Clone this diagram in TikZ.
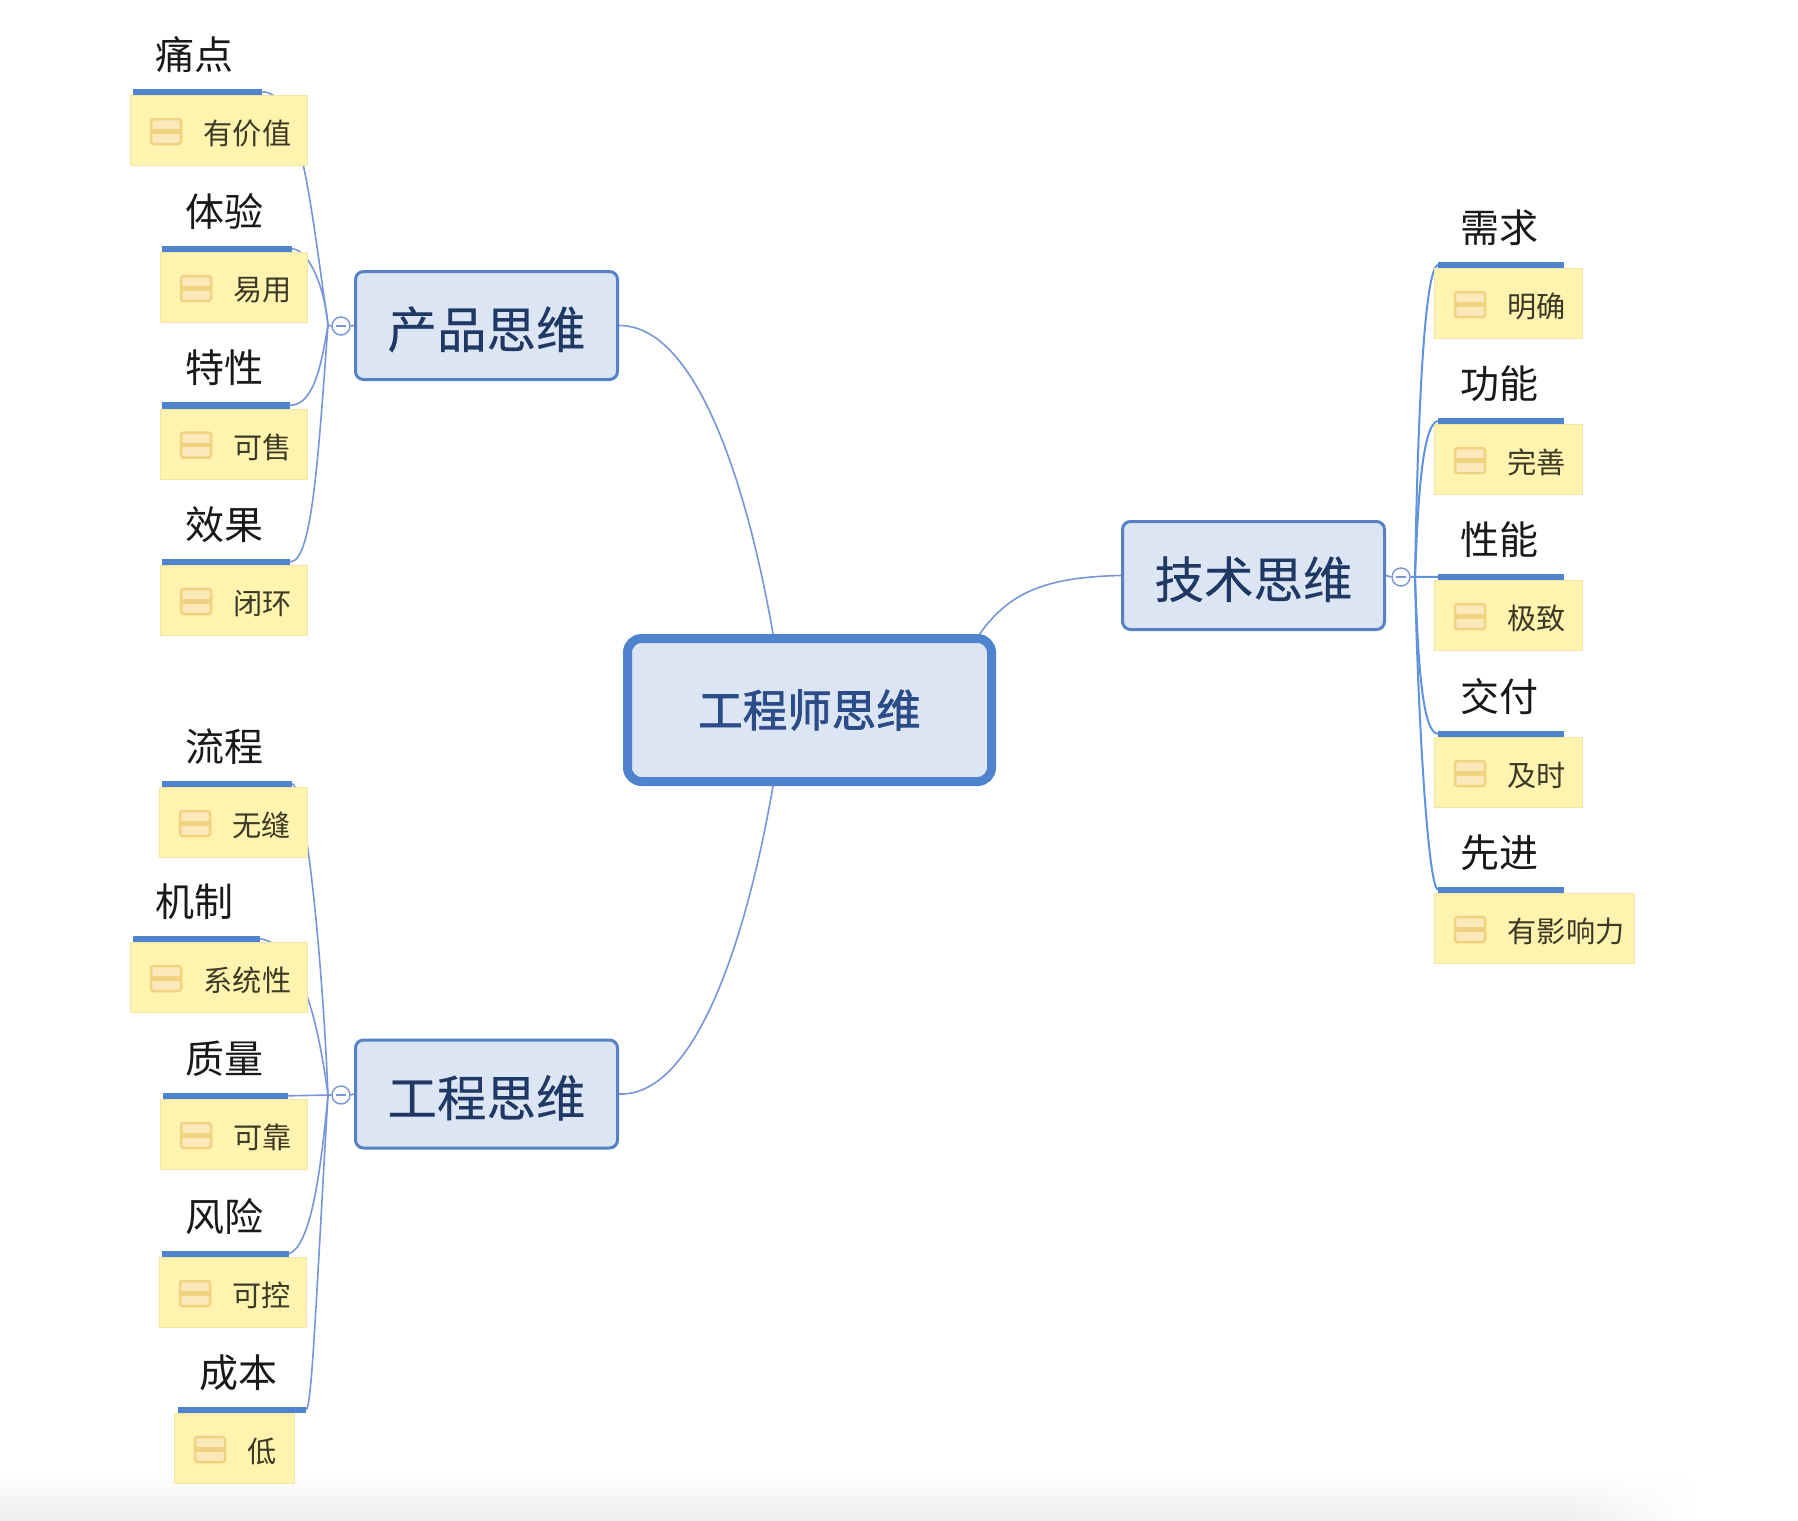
\documentclass[tikz,border=0pt]{standalone}
\usepackage{fontspec}
\setmainfont{Noto Sans CJK SC}
\newfontfamily\rootfont[FakeBold=1.6]{Noto Sans CJK SC}
\newfontfamily\mainfont[FakeBold=0.3]{Noto Sans CJK SC}
\usetikzlibrary{fadings}
\pgfdeclarelayer{behind}
\pgfsetlayers{behind,main}
\definecolor{barblue}{HTML}{4F83CE}
\definecolor{linkblue}{HTML}{7896D6}
\definecolor{linkstrong}{HTML}{5F93DE}
\definecolor{mainfill}{HTML}{DCE5F3}
\definecolor{notefill}{HTML}{FFF3B0}
\definecolor{noteedge}{HTML}{F3E6A4}
\definecolor{iconedge}{HTML}{F1D27E}
\definecolor{iconfill}{HTML}{FBE9BC}
\definecolor{navy}{HTML}{1F3864}
\definecolor{midnavy}{HTML}{2C4C88}
\definecolor{notetext}{HTML}{3C3A24}
\tikzset{
  x=1pt,y=-1pt,
  rootnode/.style={draw=barblue,line width=9pt,fill=mainfill,rounded corners=14pt,inner sep=0pt,
    minimum width=364pt,minimum height=143pt,text=midnavy,font=\fontsize{44.5}{48}\rootfont},
  mainnode/.style={draw=barblue!85!gray,line width=3pt,fill=mainfill,rounded corners=8pt,inner sep=0pt,
    minimum width=262pt,minimum height=108pt,text=navy,text height=48pt,text depth=3pt,
    font=\fontsize{49.5}{54}\mainfont},
  notebox/.style={draw=noteedge,line width=1pt,fill=notefill,inner sep=0pt},
  barnode/.style={fill=barblue,inner sep=0pt,minimum height=6.5pt},
  labeltext/.style={inner sep=0pt,text=black!90,font=\fontsize{39}{42}\selectfont},
  notetextstyle/.style={inner sep=0pt,anchor=west,text=notetext,font=\fontsize{29.2}{33}\selectfont},
  iconnode/.style={draw=iconedge,line width=2.5pt,fill=iconfill,rounded corners=2.5pt,inner sep=0pt,
    minimum width=30pt,minimum height=25pt,
    path picture={\draw[iconedge,line width=4.5pt]
      (path picture bounding box.west) -- (path picture bounding box.east);}},
  foldnode/.style={circle,draw=linkblue,line width=1.4pt,fill=white,inner sep=0pt,minimum size=18pt,
    path picture={\draw[linkblue,line width=1.2pt]
      ([xshift=-5pt]path picture bounding box.center) -- ([xshift=5pt]path picture bounding box.center);}},
  link/.style={draw=linkblue,line width=1.6pt},
  linkthick/.style={draw=linkstrong,line width=2pt},
}
% id, box left, box right, box top, bar left, bar right, label centre x, label, note text
\newcommand{\topicitem}[9]{%
  \pgfmathsetmacro{\bxc}{(#2+#3)/2}\pgfmathsetmacro{\bxw}{#3-#2-1}%
  \pgfmathsetmacro{\byc}{#4+35.5}%
  \pgfmathsetmacro{\brc}{(#5+#6)/2}\pgfmathsetmacro{\brw}{#6-#5}\pgfmathsetmacro{\bry}{#4-3.2}%
  \pgfmathsetmacro{\lby}{#4-40.5}%
  \pgfmathsetmacro{\icx}{#2+36}\pgfmathsetmacro{\icy}{#4+36.5}%
  \pgfmathsetmacro{\ntx}{#2+73.5}\pgfmathsetmacro{\nty}{#4+38.5}%
  \node[notebox,minimum width=\bxw pt,minimum height=70pt] (#1box) at (\bxc,\byc) {};
  \node[barnode,minimum width=\brw pt] (#1bar) at (\brc,\bry) {};
  \node[labeltext] (#1label) at (#7,\lby) {#8};
  \node[iconnode] (#1icon) at (\icx,\icy) {};
  \node[notetextstyle] (#1text) at (\ntx,\nty) {#9};
}
\begin{document}
\begin{tikzpicture}
\useasboundingbox (0,0) rectangle (1798,1520);
\begin{pgfonlayer}{behind}
\fill[white] (0,0) rectangle (1798,1520);
\shade[top color=white,bottom color=black!7] (0,1472) rectangle (1560,1520);
\shade[top color=white,bottom color=black!7,path fading=east] (1560,1472) rectangle (1690,1520);
\end{pgfonlayer}

\node[rootnode] (root) at (809.5,710) {工程师思维};
\node[mainnode] (prod) at (486.5,325.5) {产品思维};
\node[mainnode] (tech) at (1253.5,575.5) {技术思维};
\node[mainnode] (eng) at (486.5,1094) {工程思维};

\coordinate (rootUL) at (773,634);
\coordinate (rootLL) at (773,786);
\coordinate (rootUR) at (979,635);
\coordinate (hubP) at (328,325);
\coordinate (hubE) at (328,1095);
\coordinate (hubT) at (1415,577);

\node[foldnode] (foldP) at (341,326) {};
\node[foldnode] (foldE) at (341,1095) {};
\node[foldnode] (foldT) at (1401,577) {};

% product group
\topicitem{a}{130}{308}{95}{133}{262}{194.5}{痛点}{有价值}
\topicitem{b}{160}{308}{252}{162}{292}{224}{体验}{易用}
\topicitem{c}{160}{308}{408.5}{162}{290}{224}{特性}{可售}
\topicitem{d}{160}{308}{565}{162}{290}{224}{效果}{闭环}
% engineering group
\topicitem{e}{159}{308}{787}{162}{292}{224}{流程}{无缝}
\topicitem{f}{130}{308}{942}{133}{260}{194.5}{机制}{系统性}
\topicitem{g}{160}{308}{1099}{163}{288}{224}{质量}{可靠}
\topicitem{h}{159}{307}{1257}{162}{289}{224}{风险}{可控}
\topicitem{i}{174}{295}{1413}{178}{306}{238}{成本}{低}
% technology group
\topicitem{j}{1434}{1583}{268}{1438}{1564}{1499}{需求}{明确}
\topicitem{k}{1434}{1583}{424}{1438}{1564}{1499}{功能}{完善}
\topicitem{l}{1434}{1583}{580}{1438}{1564}{1499}{性能}{极致}
\topicitem{m}{1434}{1583}{737}{1438}{1564}{1499}{交付}{及时}
\topicitem{n}{1434}{1635}{893}{1438}{1564}{1499}{先进}{有影响力}

\begin{pgfonlayer}{behind}
\draw[link] (prod.east) .. controls (700,325) and (750,500) .. (rootUL);
\draw[link] (eng.east) .. controls (700,1097) and (750,920) .. (rootLL);
\draw[link] (tech.west) .. controls (1050,577) and (1010,590) .. (rootUR);

\draw[link] (abar.east) .. controls (300,92) and (310,200) .. (hubP);
\draw[link] (bbar.east) .. controls (310,250) and (325,290) .. (hubP);
\draw[link] (cbar.east) .. controls (315,405) and (322,360) .. (hubP);
\draw[link] (dbar.east) .. controls (312,562) and (318,460) .. (hubP);
\draw[link] (hubP) -- (foldP.west);
\draw[link] (foldP.east) -- (prod.west);

\draw[link] (ebar.east) .. controls (305,790) and (322,950) .. (hubE);
\draw[link] (fbar.east) .. controls (300,945) and (318,1020) .. (hubE);
\draw[link] (gbar.east) -- (foldE.west);
\draw[link] (hbar.east) .. controls (310,1245) and (320,1180) .. (hubE);
\draw[link] (ibar.east) .. controls (312,1405) and (316,1300) .. (hubE);
\draw[link] (foldE.east) -- (eng.west);

\draw[linkthick] (jbar.west) .. controls (1425,270) and (1418,400) .. (hubT);
\draw[linkthick] (kbar.west) .. controls (1422,425) and (1418,500) .. (hubT);
\draw[linkthick] (foldT.east) -- (lbar.west);
\draw[linkthick] (mbar.west) .. controls (1422,733) and (1418,660) .. (hubT);
\draw[linkthick] (nbar.west) .. controls (1428,885) and (1418,720) .. (hubT);
\draw[link] (tech.east) -- (foldT.west);
\end{pgfonlayer}
\end{tikzpicture}
\end{document}
